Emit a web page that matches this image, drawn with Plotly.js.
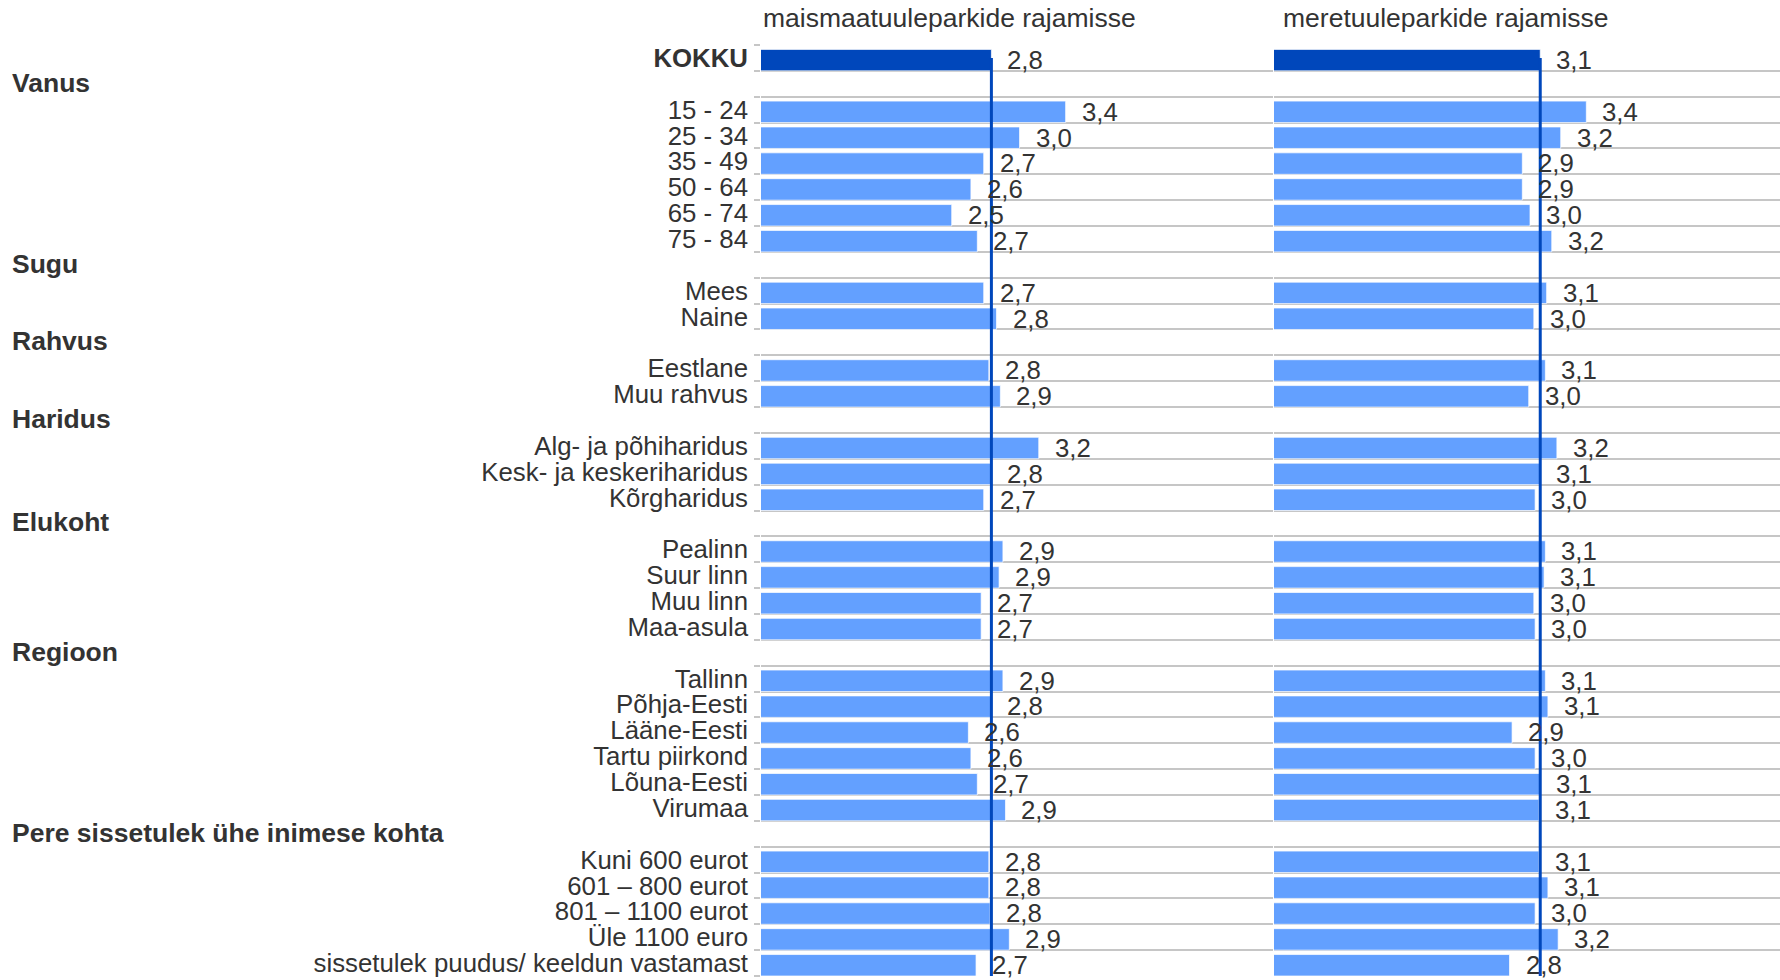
<!DOCTYPE html>
<html>
<head>
<meta charset="utf-8">
<script src="https://cdn.plot.ly/plotly-3.0.1.min.js"></script>
<style>
  html, body { margin: 0; padding: 0; background: #ffffff; }
  #chart { width: 1780px; height: 980px; }
</style>
</head>
<body>
<div id="chart"></div>
<script>
// ---- data ----
const rows = [
  'KOKKU',
  'Vanus', '15 - 24', '25 - 34', '35 - 49', '50 - 64', '65 - 74', '75 - 84',
  'Sugu', 'Mees', 'Naine',
  'Rahvus', 'Eestlane', 'Muu rahvus',
  'Haridus', 'Alg- ja põhiharidus', 'Kesk- ja keskeriharidus', 'Kõrgharidus',
  'Elukoht', 'Pealinn', 'Suur linn', 'Muu linn', 'Maa-asula',
  'Regioon', 'Tallinn', 'Põhja-Eesti', 'Lääne-Eesti', 'Tartu piirkond', 'Lõuna-Eesti', 'Virumaa',
  'Pere sissetulek ühe inimese kohta', 'Kuni 600 eurot', '601 – 800 eurot', '801 – 1100 eurot', 'Üle 1100 euro', 'sissetulek puudus/ keeldun vastamast'
];
const headerRows = ['Vanus', 'Sugu', 'Rahvus', 'Haridus', 'Elukoht', 'Regioon', 'Pere sissetulek ühe inimese kohta'];
const seriesNames = ['maismaatuuleparkide rajamisse', 'meretuuleparkide rajamisse'];
const maismaa = [
  2.80,
  null, 3.38, 3.02, 2.74, 2.64, 2.49, 2.69,
  null, 2.74, 2.84,
  null, 2.78, 2.87,
  null, 3.17, 2.80, 2.74,
  null, 2.89, 2.86, 2.72, 2.72,
  null, 2.89, 2.80, 2.62, 2.64, 2.69, 2.91,
  null, 2.78, 2.78, 2.79, 2.94, 2.68
];
const meri = [
  3.08,
  null, 3.44, 3.24, 2.94, 2.94, 3.00, 3.17,
  null, 3.13, 3.03,
  null, 3.12, 2.99,
  null, 3.21, 3.08, 3.04,
  null, 3.12, 3.11, 3.03, 3.04,
  null, 3.12, 3.14, 2.86, 3.04, 3.08, 3.07,
  null, 3.07, 3.14, 3.04, 3.22, 2.84
];

// ---- styling ----
const W = 1780;
const FONT = '"Liberation Sans", Arial, Helvetica, sans-serif';
const FS = 26.5;      // titles and group headers
const FS_ROW = 25.8;  // row labels and value labels
const TXT = '#333333';
const LIGHT = '#63A0FF';
const DARK = '#0047BB';
const GRID = '#c6c6c6';
const leftDom = [761 / W, 1273 / W];
const rightDom = [1274 / W, 1];
const rightMax = 1 + (W - 1274) / 128;

function barColors(vals) {
  return vals.map((v, i) => (i === 0 ? DARK : LIGHT));
}
function fmt(v) { return v.toFixed(1).replace('.', ','); }

const barW = 0.83;
const barOff = -barW / 2 + 0.085;

const traces = [
  {
    type: 'bar', orientation: 'h', y: rows, x: maismaa,
    xaxis: 'x', yaxis: 'y', width: barW, offset: barOff,
    marker: { color: barColors(maismaa), line: { color: 'rgba(255,255,255,0.7)', width: 1 } },
    hoverinfo: 'none'
  },
  {
    type: 'bar', orientation: 'h', y: rows, x: meri,
    xaxis: 'x2', yaxis: 'y2', width: barW, offset: barOff,
    marker: { color: barColors(meri), line: { color: 'rgba(255,255,255,0.7)', width: 1 } },
    hoverinfo: 'none'
  }
];

const annotations = [];
function addLabels(vals, xref, yref) {
  vals.forEach((v, i) => {
    if (v === null) return;
    annotations.push({
      x: v, y: rows[i], xref: xref, yref: yref,
      text: fmt(v), showarrow: false, xanchor: 'left', yanchor: 'middle',
      xshift: 15, yshift: -2, borderpad: 0,
      font: { family: FONT, size: FS_ROW, color: TXT }
    });
  });
}
addLabels(maismaa, 'x', 'y');
addLabels(meri, 'x2', 'y2');

headerRows.forEach(h => {
  annotations.push({
    x: 11 / W, y: h, xref: 'paper', yref: 'y',
    text: '<b>' + h + '</b>', showarrow: false, xanchor: 'left', yanchor: 'middle',
    yshift: 1, borderpad: 0,
    font: { family: FONT, size: FS, color: TXT }
  });
});

annotations.push({
  x: 762 / W, y: 1.0285, xref: 'paper', yref: 'paper',
  text: seriesNames[0], showarrow: false, xanchor: 'left', yanchor: 'middle', borderpad: 0,
  font: { family: FONT, size: FS, color: TXT }
});
annotations.push({
  x: 1282 / W, y: 1.0285, xref: 'paper', yref: 'paper',
  text: seriesNames[1], showarrow: false, xanchor: 'left', yanchor: 'middle', borderpad: 0,
  font: { family: FONT, size: FS, color: TXT }
});

const tickText = rows.map(r => headerRows.includes(r) ? '' : (r === 'KOKKU' ? '<b>KOKKU</b>' : r));
const nRows = rows.length;

const yBase = {
  type: 'category',
  categoryorder: 'array', categoryarray: rows,
  range: [nRows - 0.5, -0.5],
  showgrid: true, gridcolor: GRID, gridwidth: 2,
  tickson: 'boundaries',
  zeroline: false, showline: false, fixedrange: true
};

const layout = {
  width: 1780, height: 980,
  margin: { l: 0, r: 0, t: 45, b: 4, pad: 0 },
  paper_bgcolor: '#ffffff', plot_bgcolor: '#ffffff',
  showlegend: false,
  barmode: 'overlay',
  font: { family: FONT, size: FS_ROW, color: TXT },
  xaxis: {
    domain: leftDom, range: [1, 5], anchor: 'y',
    showgrid: false, zeroline: false, showticklabels: false, showline: false, ticks: '', fixedrange: true
  },
  xaxis2: {
    domain: rightDom, range: [1, rightMax], anchor: 'y2',
    showgrid: false, zeroline: false, showticklabels: false, showline: false, ticks: '', fixedrange: true
  },
  yaxis: Object.assign({}, yBase, {
    anchor: 'x',
    tickmode: 'array', tickvals: rows, ticktext: tickText,
    ticks: 'outside', ticklen: 6, tickwidth: 2, tickcolor: GRID,
    ticklabelstandoff: 12,
    tickfont: { family: FONT, size: FS_ROW, color: TXT }
  }),
  yaxis2: Object.assign({}, yBase, {
    anchor: 'x2',
    tickmode: 'array', tickvals: rows, ticktext: rows.map(() => ''),
    ticks: '', showticklabels: false
  }),
  shapes: [
    {
      type: 'line', xref: 'x', yref: 'y', x0: maismaa[0], x1: maismaa[0], y0: 0, y1: nRows - 0.5,
      line: { color: DARK, width: 3 }, layer: 'above'
    },
    {
      type: 'line', xref: 'x2', yref: 'y2', x0: meri[0], x1: meri[0], y0: 0, y1: nRows - 0.5,
      line: { color: DARK, width: 3 }, layer: 'above'
    }
  ],
  annotations: annotations
};

Plotly.newPlot('chart', traces, layout, { displayModeBar: false, staticPlot: true });
</script>
</body>
</html>
